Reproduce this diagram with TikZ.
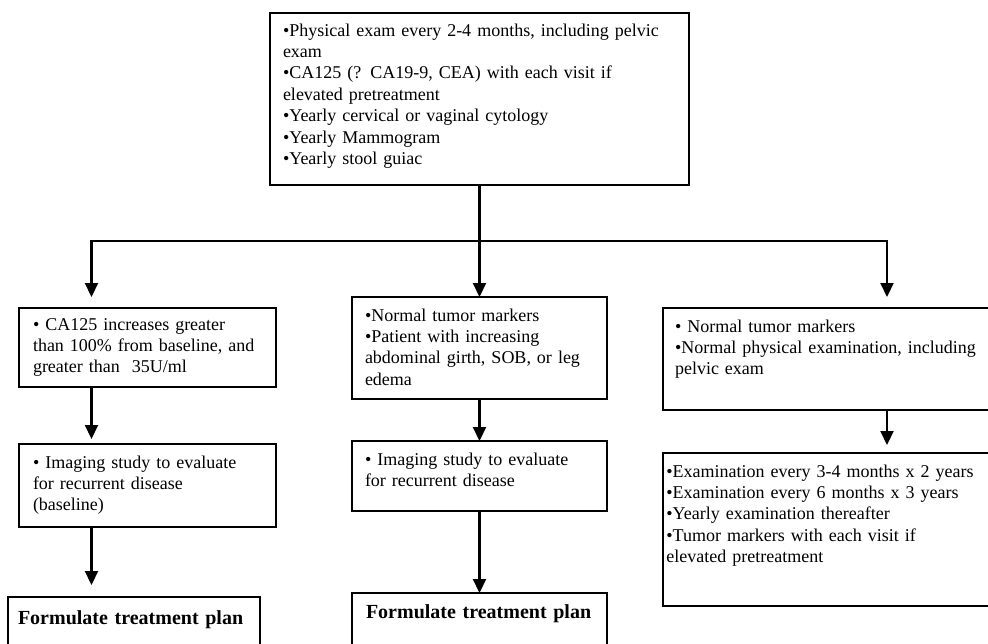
\documentclass[tikz,border=0pt]{standalone}
\usepackage{fontspec}
\setmainfont{Liberation Serif}
\usetikzlibrary{arrows.meta}
\begin{document}
\begin{tikzpicture}[x=0.75pt,y=-0.75pt,
  box/.style={draw, line width=1.8pt, outer sep=0pt, inner ysep=0pt, align=left, anchor=north west,
    font=\fontsize{13.5}{16.1}\selectfont},
  bold/.style={font=\fontsize{15}{18}\selectfont\bfseries},
  ln/.style={line width=1.6pt},
  arr/.style={line width=1.6pt, -{Triangle[width=9.75pt,length=10.5pt]}}]
\useasboundingbox (0,0) rectangle (988,643);
\clip (0,0) rectangle (988,643);

% top box
\node[box, inner xsep=9.75pt, text width=294.75pt, text height=17.25pt, text depth=111.75pt] (top) at (270,13)
 {•Physical exam every 2-4 months, including pelvic\\
  exam\\
  •CA125 (? CA19-9, CEA) with each visit if\\
  elevated pretreatment\\
  •Yearly cervical or vaginal cytology\\
  •Yearly Mammogram\\
  •Yearly stool guiac};

% left column
\node[box, inner xsep=10.5pt, text width=171.75pt, text height=16.5pt, text depth=42.75pt] (L1) at (19,308)
 {• CA125 increases greater\\
  than 100\% from baseline, and\\
  greater than~ 35U/ml};
\node[box, inner xsep=10.5pt, text width=171.75pt, text height=18pt, text depth=44.25pt] (L2) at (19,444)
 {• Imaging study to evaluate\\
  for recurrent disease\\
  (baseline)};
\node[box, bold, inner xsep=7.5pt, text width=174pt, text height=20.25pt, text depth=39.75pt] (L3) at (8,597)
 {\mbox{Formulate treatment plan}};

% centre column
\node[box, inner xsep=9.75pt, text width=171.75pt, text height=18pt, text depth=58.5pt] (C1) at (352,297)
 {•Normal tumor markers\\
  •Patient with increasing\\
  abdominal girth, SOB, or leg\\
  edema};
\node[box, inner xsep=9.75pt, text width=171.75pt, text height=18pt, text depth=34.5pt] (C2) at (352,441)
 {• Imaging study to evaluate\\
  for recurrent disease};
\node[box, bold, inner xsep=10.5pt, text width=170.25pt, text height=18.75pt, text depth=41.25pt] (C3) at (352,593)
 {\mbox{Formulate treatment plan}};

% right column
\node[box, inner xsep=9pt, text width=237pt, text height=18pt, text depth=58.5pt] (R1) at (663,308)
 {• Normal tumor markers\\
  •Normal physical examination, including\\
  pelvic exam};
\node[box, inner xsep=2.5pt, text width=250pt, text height=18pt, text depth=96.75pt] (R2) at (663,453)
 {•Examination every 3-4 months x 2 years\\
  •Examination every 6 months x 3 years\\
  •Yearly examination thereafter\\
  •Tumor markers with each visit if\\
  elevated pretreatment};

% connectors
\coordinate (split) at (479.5,241);
\coordinate (lt) at (91.5,297);
\coordinate (rt) at (887,297);
\draw[ln] (top.south) -- (split);
\draw[arr] (split) -| (lt);
\draw[arr] (split) -| (rt);
\draw[arr] (split) -- (C1.north);

\draw[arr, shorten >=3.75pt] (L1.south -| lt) -- (L2.north -| lt);
\draw[arr, shorten >=9pt] (L2.south -| lt) -- (L3.north -| lt);
\draw[arr] (C1.south) -- (C2.north);
\draw[arr] (C2.south) -- (C3.north);
\draw[arr, shorten >=6pt] (R1.south -| rt) -- (R2.north -| rt);
\end{tikzpicture}
\end{document}
